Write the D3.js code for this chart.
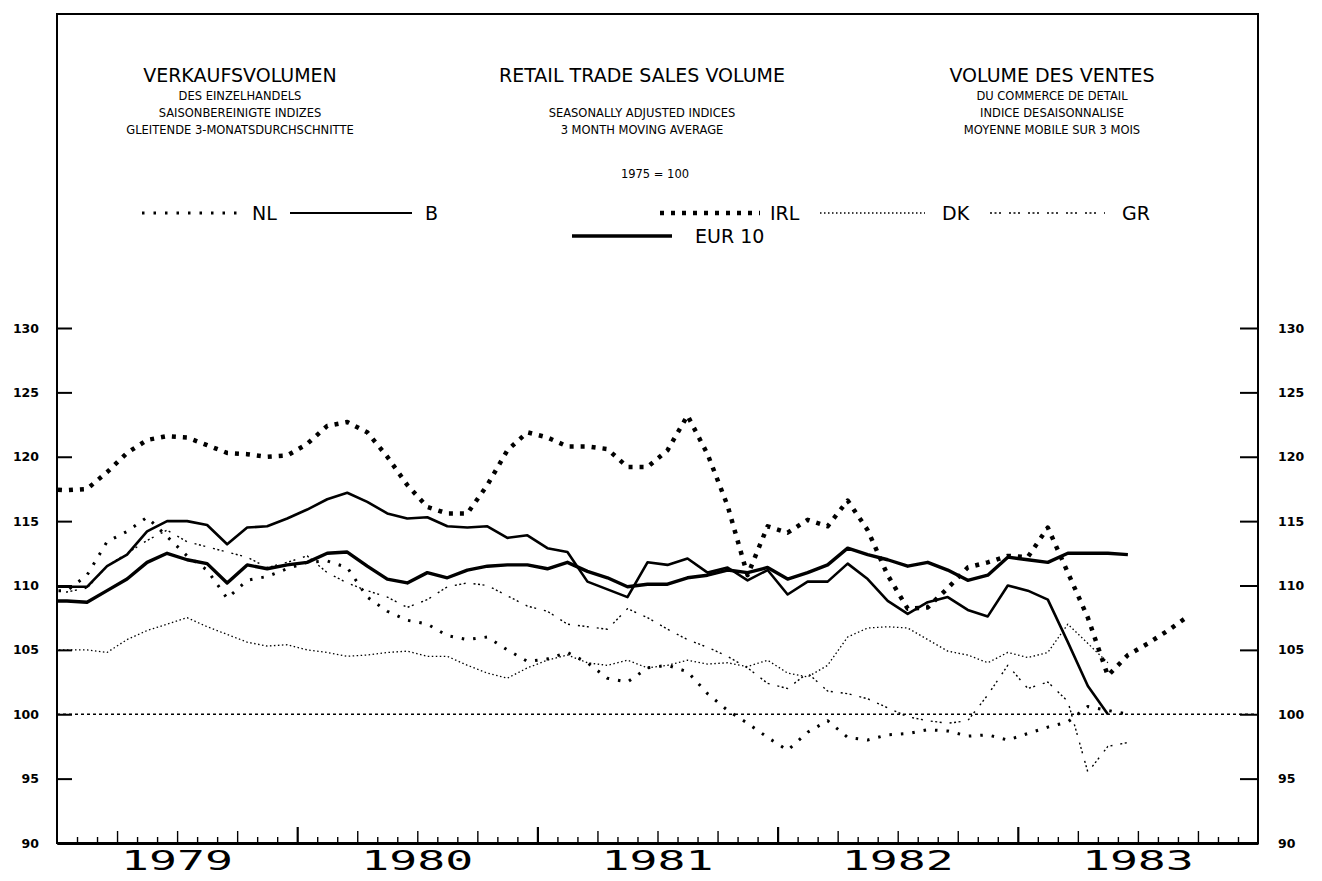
<!DOCTYPE html>
<html>
<head>
<meta charset="utf-8">
<script src="https://cdn.jsdelivr.net/npm/d3@7"></script>
<style>
  body { margin: 0; background: #fff; }
  svg { display: block; }
  text { font-family: "DejaVu Sans", sans-serif; fill: #000; }
</style>
</head>
<body>
<svg id="chart"></svg>
<script>
const width = 1322;
const height = 881;

// monthly values, first value = Dec 1978, then Jan 1979 onwards
const irl = [117.5, 117.4, 117.5, 118.8, 120.3, 121.3, 121.6, 121.5, 120.9, 120.3, 120.2, 120.0, 120.1,
  121.0, 122.4, 122.7, 121.9, 120.0, 117.8, 116.1, 115.6, 115.6, 117.8, 120.5, 121.9,
  121.5, 120.8, 120.8, 120.6, 119.2, 119.2, 120.5, 123.2, 120.2, 116.2, 110.8, 114.6,
  114.1, 115.1, 114.6, 116.6, 114.3, 110.8, 108.2, 108.3, 109.8, 111.4, 111.8, 112.3,
  112.2, 114.5, 111.0, 107.5, 103.0, 104.6, 105.5, 106.5, 107.6];
const b = [109.9, 109.9, 109.9, 111.5, 112.4, 114.2, 115.0, 115.0, 114.7, 113.2, 114.5, 114.6, 115.2,
  115.9, 116.7, 117.2, 116.5, 115.6, 115.2, 115.3, 114.6, 114.5, 114.6, 113.7, 113.9,
  112.9, 112.6, 110.3, 109.7, 109.1, 111.8, 111.6, 112.1, 111.0, 111.4, 110.4, 111.2,
  109.3, 110.3, 110.3, 111.7, 110.5, 108.8, 107.8, 108.7, 109.1, 108.1, 107.6, 110.0,
  109.6, 108.9, 105.6, 102.2, 100.0];
const eur10 = [108.8, 108.8, 108.7, 109.6, 110.5, 111.8, 112.5, 112.0, 111.7, 110.2, 111.6, 111.3, 111.6,
  111.8, 112.5, 112.6, 111.5, 110.5, 110.2, 111.0, 110.6, 111.2, 111.5, 111.6, 111.6,
  111.3, 111.8, 111.1, 110.6, 109.9, 110.1, 110.1, 110.6, 110.8, 111.2, 111.0, 111.4,
  110.5, 111.0, 111.6, 112.9, 112.4, 112.0, 111.5, 111.8, 111.2, 110.4, 110.8, 112.2,
  112.0, 111.8, 112.5, 112.5, 112.5, 112.4];
const nl = [109.6, 109.6, 110.8, 113.4, 114.2, 115.3, 113.8, 112.3, 111.2, 109.0, 110.4, 110.7, 111.3,
  111.8, 111.9, 111.4, 109.1, 108.0, 107.3, 107.0, 106.1, 105.8, 106.0, 105.0, 104.1,
  104.3, 104.8, 104.0, 102.8, 102.5, 103.6, 103.8, 103.3, 101.6, 100.3, 99.3, 98.2,
  97.2, 98.6, 99.5, 98.2, 98.0, 98.4, 98.5, 98.8, 98.7, 98.3, 98.4, 98.0,
  98.5, 99.0, 99.4, 100.6, 100.3, 100.0];
const dk = [105.0, 105.0, 105.0, 104.8, 105.8, 106.5, 107.0, 107.5, 106.8, 106.2, 105.6, 105.3, 105.4,
  105.0, 104.8, 104.5, 104.6, 104.8, 104.9, 104.5, 104.5, 103.8, 103.2, 102.8, 103.6,
  104.2, 104.6, 104.0, 103.8, 104.2, 103.6, 103.8, 104.2, 103.9, 104.0, 103.7, 104.2,
  103.2, 102.9, 103.8, 106.0, 106.7, 106.8, 106.7, 105.8, 104.9, 104.6, 104.0, 104.8,
  104.4, 104.8, 107.0, 105.5, 104.0];
const gr = [109.5, 109.5, 109.8, 111.5, 112.5, 113.5, 114.3, 113.4, 113.0, 112.6, 112.2, 111.4, 111.8,
  112.3, 111.0, 110.2, 109.6, 109.1, 108.3, 108.9, 109.9, 110.2, 110.0, 109.2, 108.4,
  108.0, 107.0, 106.8, 106.6, 108.2, 107.5, 106.6, 105.8, 105.2, 104.5, 103.6, 102.4,
  102.0, 103.2, 101.8, 101.6, 101.2, 100.5, 99.8, 99.5, 99.3, 99.5, 101.5, 103.8,
  102.0, 102.5, 101.0, 95.5, 97.5, 97.8];

const years = ['1979', '1980', '1981', '1982', '1983'];
const yTicks = [90, 95, 100, 105, 110, 115, 120, 125, 130];

const svg = d3.select('#chart').attr('width', width).attr('height', height);

const plotLeft = 57, plotRight = 1258, plotTop = 14, plotBottom = 843;

// month index 0 = start of Jan 1979
const x = d3.scaleLinear().domain([0, 60]).range([plotLeft, plotRight]);
const y = d3.scaleLinear().domain([90, 130]).range([plotBottom, 328]);

svg.append('defs').append('clipPath').attr('id', 'plot')
  .append('rect').attr('x', plotLeft).attr('y', plotTop)
  .attr('width', plotRight - plotLeft).attr('height', plotBottom - plotTop);

// frame
svg.append('rect')
  .attr('x', plotLeft).attr('y', plotTop)
  .attr('width', plotRight - plotLeft).attr('height', plotBottom - plotTop)
  .attr('fill', 'none').attr('stroke', '#000').attr('stroke-width', 2);

// titles
const titles = [
  {t: 'VERKAUFSVOLUMEN', x: 240, y: 82, s: 19},
  {t: 'DES EINZELHANDELS', x: 240, y: 100, s: 11.5},
  {t: 'SAISONBEREINIGTE INDIZES', x: 240, y: 117, s: 11.5},
  {t: 'GLEITENDE 3-MONATSDURCHSCHNITTE', x: 240, y: 134, s: 11.5},
  {t: 'RETAIL TRADE SALES VOLUME', x: 642, y: 82, s: 19},
  {t: 'SEASONALLY ADJUSTED INDICES', x: 642, y: 117, s: 11.5},
  {t: '3 MONTH MOVING AVERAGE', x: 642, y: 134, s: 11.5},
  {t: '1975 = 100', x: 655, y: 178, s: 11.5},
  {t: 'VOLUME DES VENTES', x: 1052, y: 82, s: 19},
  {t: 'DU COMMERCE DE DETAIL', x: 1052, y: 100, s: 11.5},
  {t: 'INDICE DESAISONNALISE', x: 1052, y: 117, s: 11.5},
  {t: 'MOYENNE MOBILE SUR 3 MOIS', x: 1052, y: 134, s: 11.5}
];
svg.selectAll('.title').data(titles).enter().append('text')
  .attr('class', 'title')
  .attr('x', d => d.x).attr('y', d => d.y)
  .attr('text-anchor', 'middle')
  .style('font-size', d => d.s + 'px')
  .text(d => d.t);

// series styles
const series = [
  {name: 'NL', data: nl, w: 3, dash: '2.5 9', lx: [142, 245], ly: 213, tx: 252},
  {name: 'B', data: b, w: 2.6, dash: null, lx: [290, 412], ly: 213, tx: 425},
  {name: 'IRL', data: irl, w: 4.5, dash: '4 7', lx: [660, 760], ly: 213, tx: 770},
  {name: 'DK', data: dk, w: 1.3, dash: '1.5 2.5', lx: [820, 925], ly: 213, tx: 942},
  {name: 'GR', data: gr, w: 1.4, dash: '2 2.5 2 2.5 2 8', lx: [990, 1105], ly: 213, tx: 1122},
  {name: 'EUR 10', data: eur10, w: 3.4, dash: null, lx: [572, 672], ly: 236, tx: 695}
];

const line = d3.line()
  .x((d, i) => x(i - 1 + 0.5))
  .y(d => y(d));

// reference line at 100
svg.append('line')
  .attr('x1', plotLeft).attr('x2', plotRight)
  .attr('y1', y(100)).attr('y2', y(100))
  .attr('stroke', '#000').attr('stroke-width', 1.4).attr('stroke-dasharray', '3 3');

const plot = svg.append('g').attr('clip-path', 'url(#plot)');
series.forEach(s => {
  plot.append('path')
    .datum(s.data)
    .attr('d', line)
    .attr('fill', 'none')
    .attr('stroke', '#000')
    .attr('stroke-width', s.w)
    .attr('stroke-dasharray', s.dash)
    .attr('stroke-linejoin', 'round');
});

// legend
const legend = svg.append('g');
series.forEach(s => {
  legend.append('line')
    .attr('x1', s.lx[0]).attr('x2', s.lx[1])
    .attr('y1', s.ly).attr('y2', s.ly)
    .attr('stroke', '#000')
    .attr('stroke-width', s.name == 'B' ? 2 : s.w)
    .attr('stroke-dasharray', s.dash);
  legend.append('text')
    .attr('x', s.tx).attr('y', s.ly + 7)
    .style('font-size', '19px')
    .text(s.name);
});

// y axes
const yAxisL = svg.append('g').attr('transform', `translate(${plotLeft},0)`)
  .call(d3.axisLeft(y).tickValues(yTicks).tickSizeInner(-15).tickSizeOuter(0).tickPadding(18));
const yAxisR = svg.append('g').attr('transform', `translate(${plotRight},0)`)
  .call(d3.axisRight(y).tickValues(yTicks).tickSizeInner(-18).tickSizeOuter(0).tickPadding(20));
[yAxisL, yAxisR].forEach(a => {
  a.select('.domain').remove();
  a.selectAll('line').attr('stroke-width', 2);
  a.selectAll('text').style('font-size', '12.5px').style('font-weight', 'bold')
    .style('font-family', '"DejaVu Sans", sans-serif');
});

// x axis with month ticks
const xAxis = svg.append('g').attr('transform', `translate(0,${plotBottom})`)
  .call(d3.axisBottom(x).tickValues(d3.range(1, 60)).tickSizeOuter(0).tickFormat(''));
xAxis.select('.domain').attr('stroke-width', 3);
xAxis.selectAll('.tick line')
  .attr('y2', d => d % 12 == 0 ? -16 : (d % 3 == 0 ? -12 : -6))
  .attr('stroke-width', d => d % 12 == 0 ? 2.2 : 1.4);

svg.selectAll('.year').data(years).enter().append('text')
  .attr('class', 'year')
  .attr('x', (d, i) => x(i * 12 + 6))
  .attr('y', 870)
  .attr('text-anchor', 'middle')
  .attr('textLength', 112)
  .attr('lengthAdjust', 'spacingAndGlyphs')
  .style('font-family', '"DejaVu Sans Mono", monospace')
  .style('font-size', '26px')
  .text(d => d);
</script>
</body>
</html>
